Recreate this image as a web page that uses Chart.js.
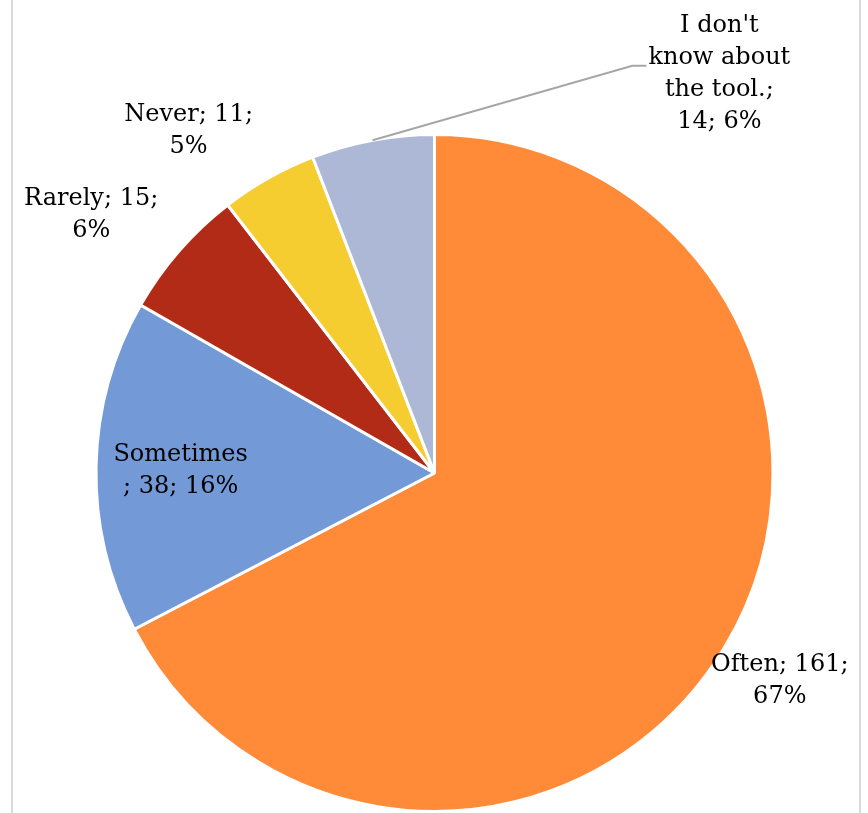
<!DOCTYPE html>
<html>
<head>
<meta charset="utf-8">
<script src="https://cdn.jsdelivr.net/npm/chart.js@4.4.1/dist/chart.umd.min.js"></script>
<style>
  html, body { margin: 0; padding: 0; background: #fff; }
  #wrap { width: 868px; height: 813px; }
</style>
</head>
<body>
<div id="wrap"><canvas id="pieChart"></canvas></div>
<script>
const categories = ['Often', 'Sometimes', 'Rarely', 'Never', "I don't know about the tool."];
const counts = [161, 38, 15, 11, 14];
const percentLabels = ['67%', '16%', '6%', '5%', '6%'];
const sliceColors = ['#FF8A38', '#7399D7', '#B22B17', '#F5CD31', '#ADB8D6'];

// label lines as they wrap in the picture
const labelLines = [
    ['Often; 161;', '67%'],
    ['Sometimes', '; 38; 16%'],
    ['Rarely; 15;', '6%'],
    ['Never; 11;', '5%'],
    ["I don't", 'know about', 'the tool.;', '14; 6%']
];
// where each label sits: distance (in radii) and angle (deg, 0 = 3 o'clock)
const labelPlace = [
    { r: 1.19, a: 31 },
    { r: 0.75, a: 180.5 },
    { r: 1.27, a: 217 },
    { r: 1.245, a: 234.3 },
    { r: 1.449, a: -54.5, leader: true }
];

const pieLabels = {
    id: 'pieLabels',
    beforeDraw(chart) {
        const c = chart.ctx;
        c.save();
        c.strokeStyle = '#d9d9d9';
        c.lineWidth = 2;
        [12, 860].forEach(x => {
            c.beginPath();
            c.moveTo(x, 0);
            c.lineTo(x, chart.height);
            c.stroke();
        });
        c.restore();
    },
    afterDatasetsDraw(chart) {
        const c = chart.ctx;
        const arcs = chart.getDatasetMeta(0).data;
        c.save();
        c.font = '24px "DejaVu Serif"';
        c.fillStyle = '#000';
        c.textAlign = 'center';
        c.textBaseline = 'middle';
        arcs.forEach((arc, i) => {
            const p = labelPlace[i];
            const rad = p.a * Math.PI / 180;
            const x = arc.x + Math.cos(rad) * p.r * arc.outerRadius;
            const y = arc.y + Math.sin(rad) * p.r * arc.outerRadius;
            const lines = labelLines[i];
            const lh = 32;
            const top = y - (lines.length - 1) * lh / 2;
            lines.forEach((t, k) => c.fillText(t, x, top + k * lh));
            if (p.leader) {
                const mid = (arc.startAngle + arc.endAngle) / 2;
                const sx = arc.x + Math.cos(mid) * arc.outerRadius;
                const sy = arc.y + Math.sin(mid) * arc.outerRadius;
                const ey = top + 40;
                const ex = x - 87;
                c.strokeStyle = '#a6a6a6';
                c.lineWidth = 2;
                c.beginPath();
                c.moveTo(sx, sy);
                c.lineTo(ex, ey);
                c.lineTo(ex + 14, ey);
                c.stroke();
            }
        });
        c.restore();
    }
};

new Chart(document.getElementById('pieChart'), {
    type: 'pie',
    data: {
        labels: categories,
        datasets: [{
            data: counts,
            backgroundColor: sliceColors,
            borderColor: '#ffffff',
            borderWidth: 3
        }]
    },
    options: {
        responsive: true,
        maintainAspectRatio: false,
        animation: false,
        layout: { padding: { top: 133, bottom: 0, left: 94, right: 93 } },
        plugins: {
            legend: { display: false },
            tooltip: { enabled: false }
        }
    },
    plugins: [pieLabels]
});
</script>
</body>
</html>
